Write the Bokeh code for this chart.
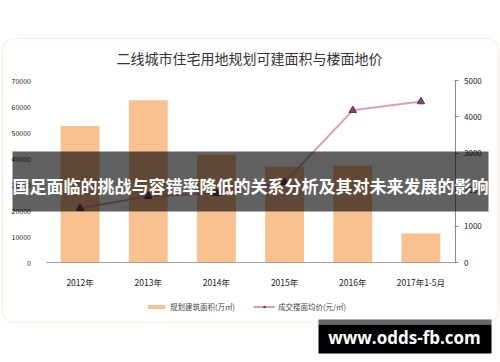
from bokeh.plotting import figure
from bokeh.models import (FactorRange, Range1d, LinearAxis, CategoricalAxis, Label, BoxAnnotation,
                          Legend, LegendItem, FixedTicker, NumeralTickFormatter)
from bokeh.embed import file_html
from bokeh.resources import INLINE

# ---- data ----
categories = ["2012年", "2013年", "2014年", "2015年", "2016年", "2017年1-5月"]
area_values = [52500, 62400, 41400, 36800, 37200, 11200]       # 规划建筑面积(万㎡)
price_values = [1490, 1820, 1900, 2200, 4180, 4420]            # 成交楼面均价(元/㎡)
left_ticks = [0, 10000, 20000, 30000, 40000, 50000, 60000, 70000]
right_ticks = [0, 1000, 2000, 3000, 4000, 5000]
title_text = "二线城市住宅用地规划可建面积与楼面地价"
legend_bar = "规划建筑面积(万㎡)"
legend_line = "成交楼面均价(元/㎡)"
banner_text = "国足面临的挑战与容错率降低的关系分析及其对未来发展的影响"
watermark_text = "www.odds-fb.com"

W, H = 500, 362
CJK = "Noto Sans CJK SC"
# plot-area layout (pixels from top-left of canvas)
PL, PR, PT, PB = 46, 455, 80, 262
LMAX, RMAX = 70000, 5000

lpp = LMAX / (PB - PT)
rpp = RMAX / (PB - PT)
pad = ((PL) + (W - PR)) / 2 / ((PR - PL) / len(categories))

p = figure(width=W, height=H,
           x_range=FactorRange(factors=categories, range_padding=pad,
                               range_padding_units="absolute"),
           y_range=Range1d(-(H - PB) * lpp, LMAX + PT * lpp),
           output_backend="svg", toolbar_location=None,
           x_axis_type=None, y_axis_type=None,
           min_border=0, min_border_left=0, min_border_right=0,
           min_border_top=0, min_border_bottom=0)
p.outline_line_color = None
p.background_fill_color = "white"
p.border_fill_color = "white"
p.xgrid.grid_line_color = None
p.ygrid.grid_line_color = None

p.extra_y_ranges = {"price": Range1d(-(H - PB) * rpp, RMAX + PT * rpp)}

# left axis
yax = LinearAxis(ticker=FixedTicker(ticks=left_ticks), fixed_location=0)
yax.formatter = NumeralTickFormatter(format="0")
yax.axis_line_color = None
yax.major_tick_line_color = None
yax.minor_tick_line_color = None
yax.major_label_standoff = 9
yax.major_label_text_font = CJK
yax.major_label_text_font_size = "7px"
yax.major_label_text_color = "#222222"
p.add_layout(yax, "left")

# bottom axis
xax = CategoricalAxis(fixed_location=0, bounds=(0, len(categories)))
xax.axis_line_color = "#a0a0a0"
xax.axis_line_width = 1.2
xax.major_tick_line_color = None
xax.minor_tick_line_color = None
xax.major_label_standoff = 7
xax.major_label_text_font = CJK
xax.major_label_text_font_size = "8.5px"
xax.major_label_text_color = "#222222"
p.add_layout(xax, "below")

# right axis
rax = LinearAxis(y_range_name="price", ticker=FixedTicker(ticks=right_ticks),
                 fixed_location=len(categories), bounds=(0, RMAX))
rax.axis_line_color = "#8c8c8c"
rax.major_tick_line_color = "#8c8c8c"
rax.major_tick_out = 3
rax.major_tick_in = 1
rax.minor_tick_line_color = None
rax.major_label_standoff = 6
rax.major_label_text_font = CJK
rax.major_label_text_font_size = "8px"
rax.major_label_text_color = "#222222"
p.add_layout(rax, "right")

bars = p.vbar(x=categories, top=area_values, width=0.57, fill_color="#f9c18f",
              line_color=None)
ln = p.line(x=categories, y=price_values, y_range_name="price", line_color="#d98f96",
            line_width=2, line_alpha=0.85)
mk = p.scatter(x=categories, y=price_values, y_range_name="price", marker="triangle",
               size=7.5, fill_color="#76457a", line_color="#5a3360")

def sy(y):
    return H - y

def box(l, r, t, b, **kw):
    return BoxAnnotation(left=l, right=r, top=sy(t), bottom=sy(b),
                         left_units="screen", right_units="screen",
                         top_units="screen", bottom_units="screen", **kw)

# card border
p.add_layout(box(2, 498, 38, 322, fill_alpha=0, line_color="#f7c29a", line_width=1.2,
                 border_radius=12))

# title
p.add_layout(Label(x=249, y=sy(57), x_units="screen", y_units="screen", text=title_text,
                   text_align="center", text_baseline="middle", text_font=CJK,
                   text_font_size="14px", text_color="#333333"))

# legend
legend = Legend(items=[LegendItem(label=legend_bar, renderers=[bars]),
                       LegendItem(label=legend_line, renderers=[ln, mk])],
                orientation="horizontal", location=(145, sy(312)),
                glyph_width=22, glyph_height=5, label_height=8, label_standoff=3,
                spacing=18, padding=0, margin=0, border_line_color=None,
                background_fill_alpha=0, label_text_font=CJK,
                label_text_font_size="7.5px", label_text_color="#444444")
p.add_layout(legend, "center")

# banner overlay
p.add_layout(box(12, 488, 151, 211, fill_color="black", fill_alpha=0.62, line_color=None))
p.add_layout(Label(x=250, y=sy(185), x_units="screen", y_units="screen", text=banner_text,
                   text_align="center", text_baseline="middle", text_font=CJK,
                   text_font_style="bold", text_font_size="17px", text_color="white"))

# watermark
p.add_layout(box(318, 491, 319, 324, fill_color="#666666", fill_alpha=1, line_color=None))
p.add_layout(box(318, 491, 324, 353, fill_color="black", fill_alpha=1, line_color=None))
p.add_layout(Label(x=404, y=sy(337), x_units="screen", y_units="screen", text=watermark_text,
                   text_align="center", text_baseline="middle", text_font="Open Sans",
                   text_font_style="bold", text_font_size="17px", text_color="white"))

open("out.html", "w").write(file_html(p, INLINE))
